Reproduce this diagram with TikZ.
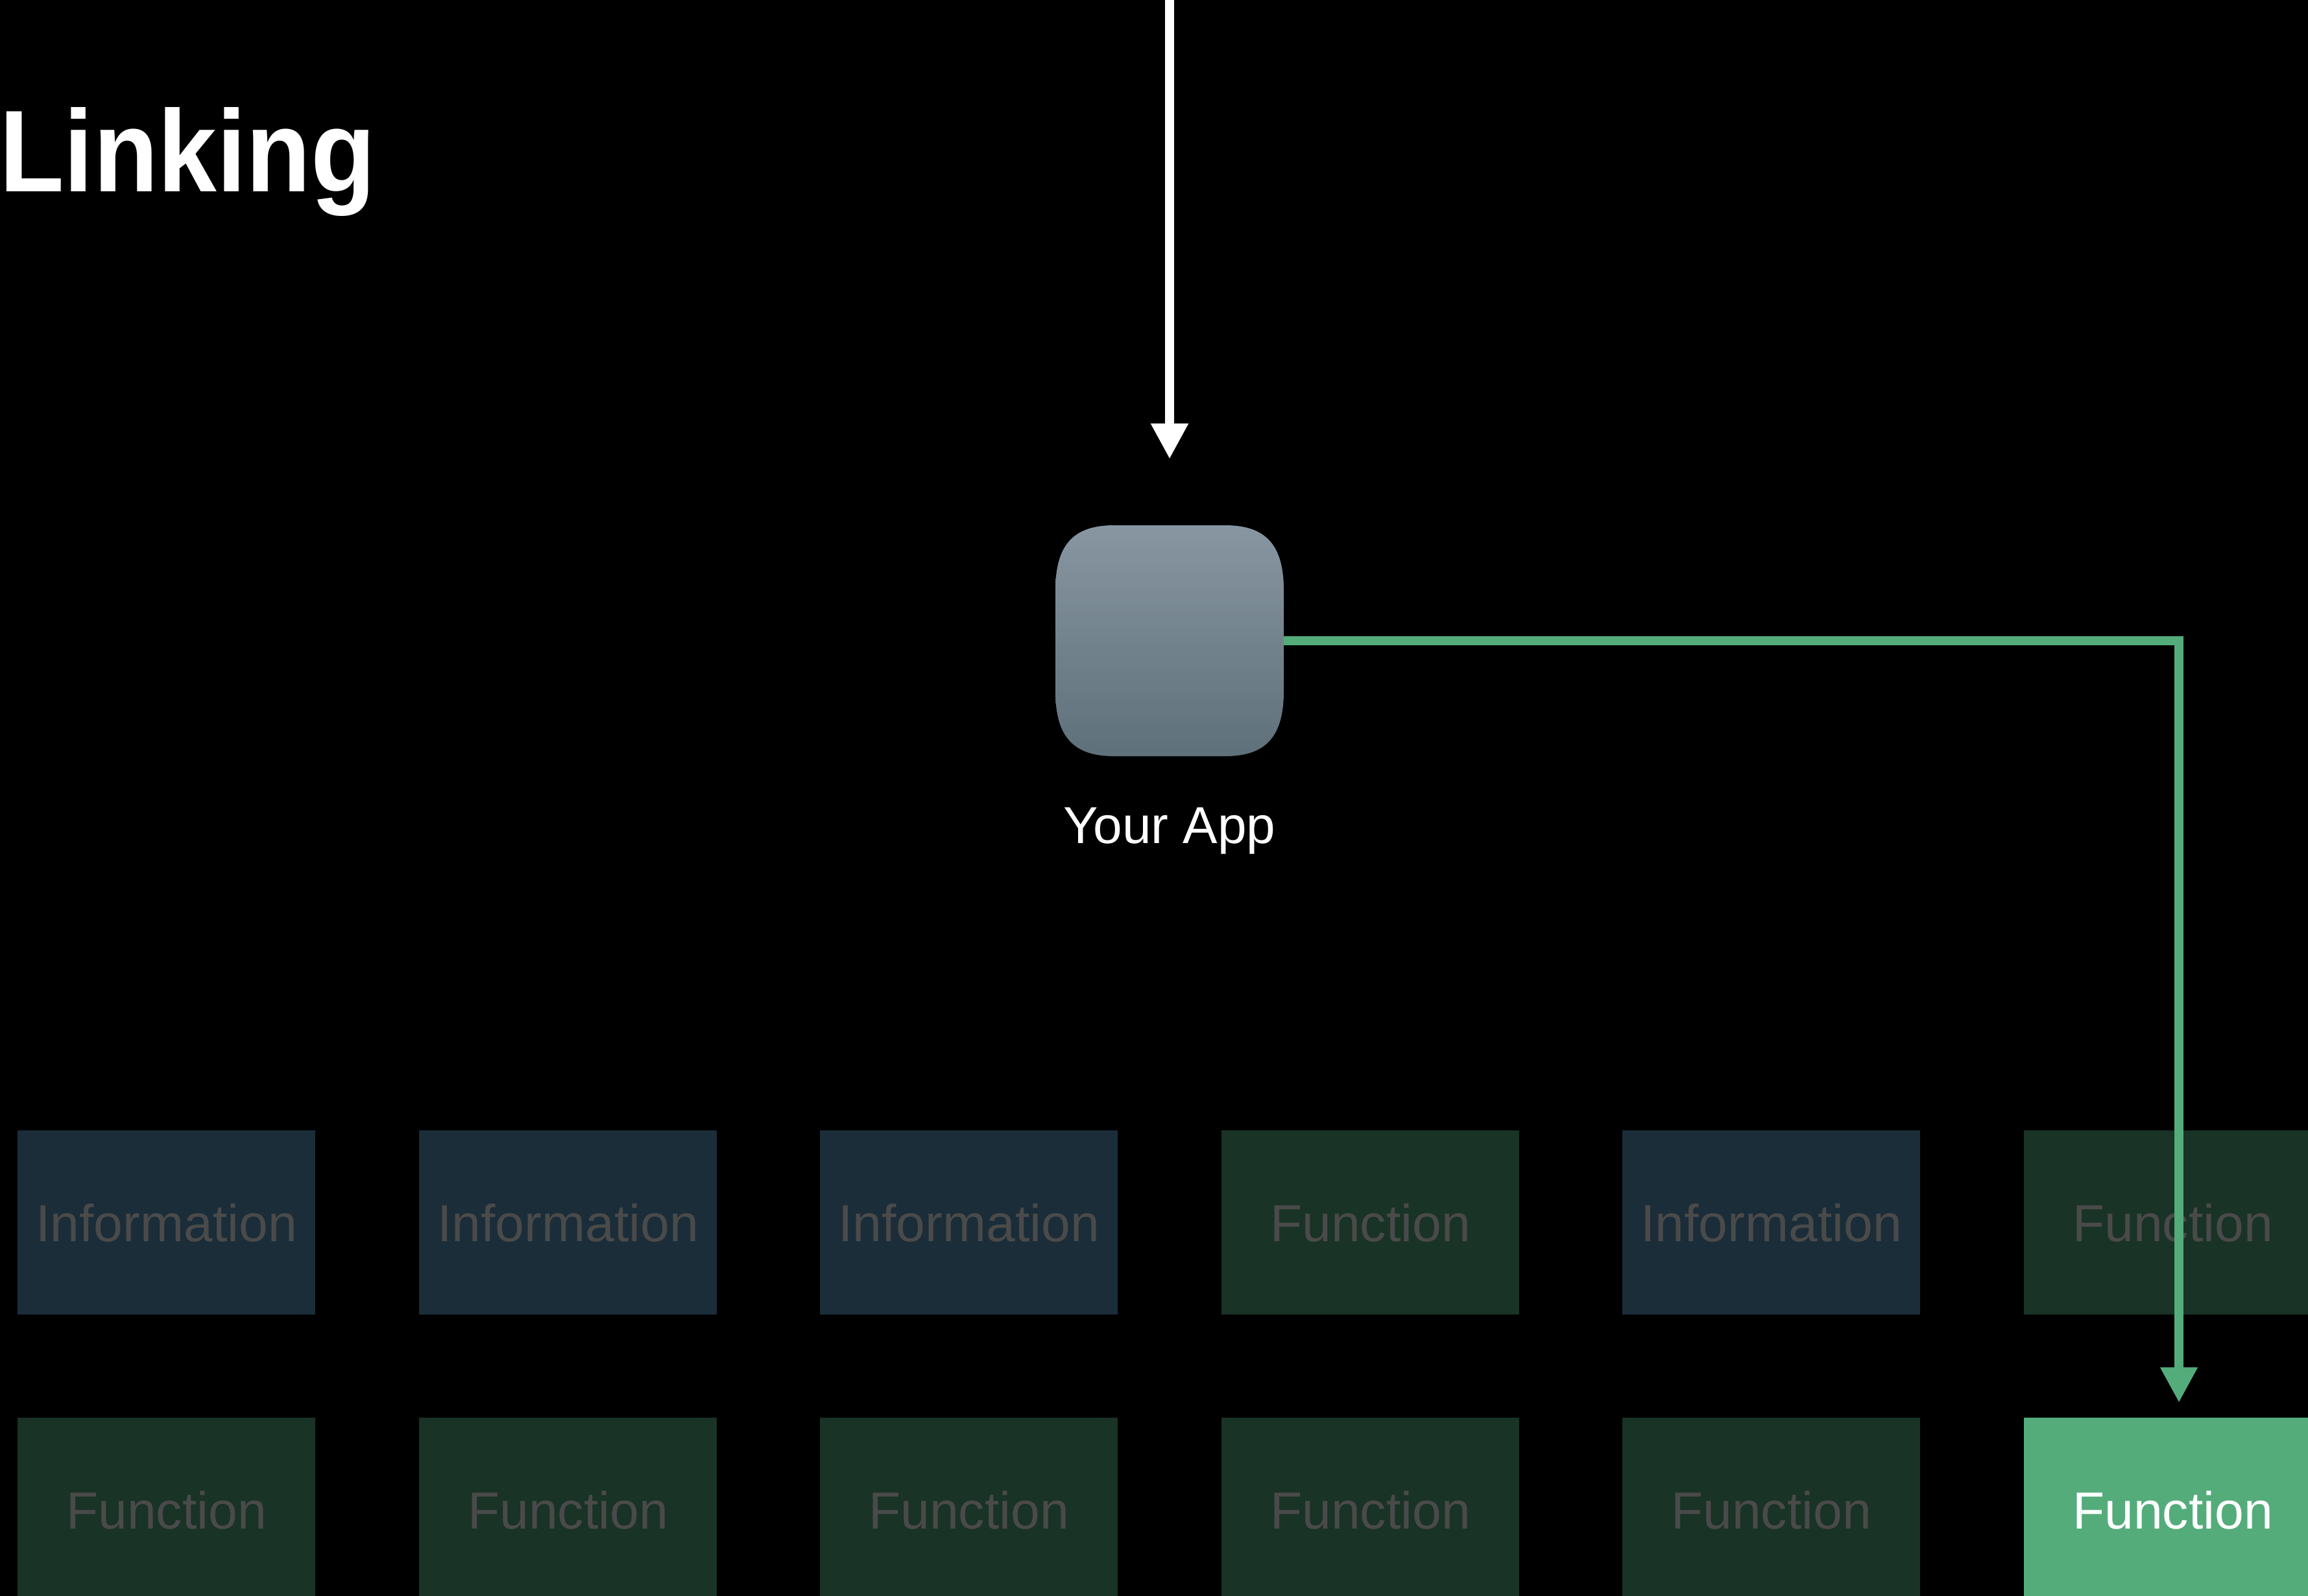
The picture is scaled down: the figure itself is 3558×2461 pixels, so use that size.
\documentclass[tikz,border=0pt]{standalone}
\usepackage{fontspec}
\usetikzlibrary{arrows.meta,positioning}
\setmainfont{Liberation Sans}
\newfontfamily\titlefont[FakeStretch=0.91]{Liberation Sans Bold}
\definecolor{bluebox}{HTML}{1A2D39}
\definecolor{greenbox}{HTML}{193326}
\definecolor{dimtext}{HTML}{4A4A4A}
\definecolor{accent}{HTML}{54AC7B}
\definecolor{icontop}{HTML}{8896A2}
\definecolor{iconbot}{HTML}{5E7079}
\tikzset{
  x=0.01cm,y=-0.01cm,
  cell/.style={rectangle,inner sep=0pt,outer sep=0pt,minimum width=4.59cm,minimum height=2.84cm,
    font=\fontsize{22.9pt}{26pt}\selectfont,text height=17pt,text depth=0pt},
  infobox/.style={cell,fill=bluebox,text=dimtext},
  funcbox/.style={cell,fill=greenbox,text=dimtext},
  hotbox/.style={cell,fill=accent,text=white},
  flow/.style={line width=0.14cm,miter limit=10,-{Triangle[length=0.546cm,width=0.54cm]}},
}
\begin{document}
\begin{tikzpicture}
\useasboundingbox (0,0) rectangle (3558,2461);
\fill[black] (0,0) rectangle (3558,2461);

\node[anchor=base east,inner sep=0pt,text=white,font=\titlefont\fontsize{51pt}{56pt}\selectfont] (title) at (580,296) {Linking};

\shade[top color=icontop,bottom color=iconbot]
  (1717,810) -- (1889,810)
  .. controls (1951,810) and (1979,840) .. (1979,910)
  -- (1979,1066)
  .. controls (1979,1136) and (1951,1166) .. (1889,1166)
  -- (1717,1166)
  .. controls (1655,1166) and (1627,1136) .. (1627,1066)
  -- (1627,910)
  .. controls (1627,840) and (1655,810) .. (1717,810) -- cycle;
\node[rectangle,inner sep=0pt,outer sep=0pt,minimum width=3.52cm,minimum height=3.56cm] (app) at (1803,988) {};
\node[anchor=base,inner sep=0pt,text=white,font=\fontsize{22.8pt}{26pt}\selectfont] (applabel) at (1803,1300) {Your App};

\node[infobox] (a1) at (256.5,1885) {Information};
\node[infobox] (a2) at (875.5,1885) {Information};
\node[infobox] (a3) at (1493.5,1885) {Information};
\node[funcbox] (a4) at (2112.5,1885) {Function};
\node[infobox] (a5) at (2730.5,1885) {Information};
\node[funcbox] (a6) at (3349.5,1885) {Function};

\node[funcbox] (b1) at (256.5,2328) {Function};
\node[funcbox] (b2) at (875.5,2328) {Function};
\node[funcbox] (b3) at (1493.5,2328) {Function};
\node[funcbox] (b4) at (2112.5,2328) {Function};
\node[funcbox] (b5) at (2730.5,2328) {Function};
\node[hotbox] (b6) at (3349.5,2328) {Function};

\coordinate (entry) at (1803,0);
\draw[flow,draw=white,shorten >=1.02cm] (entry) -- (app.north);
\draw[flow,draw=accent] (app.east) -| ([xshift=0.095cm,yshift=0.23cm]b6.north);
\end{tikzpicture}
\end{document}
